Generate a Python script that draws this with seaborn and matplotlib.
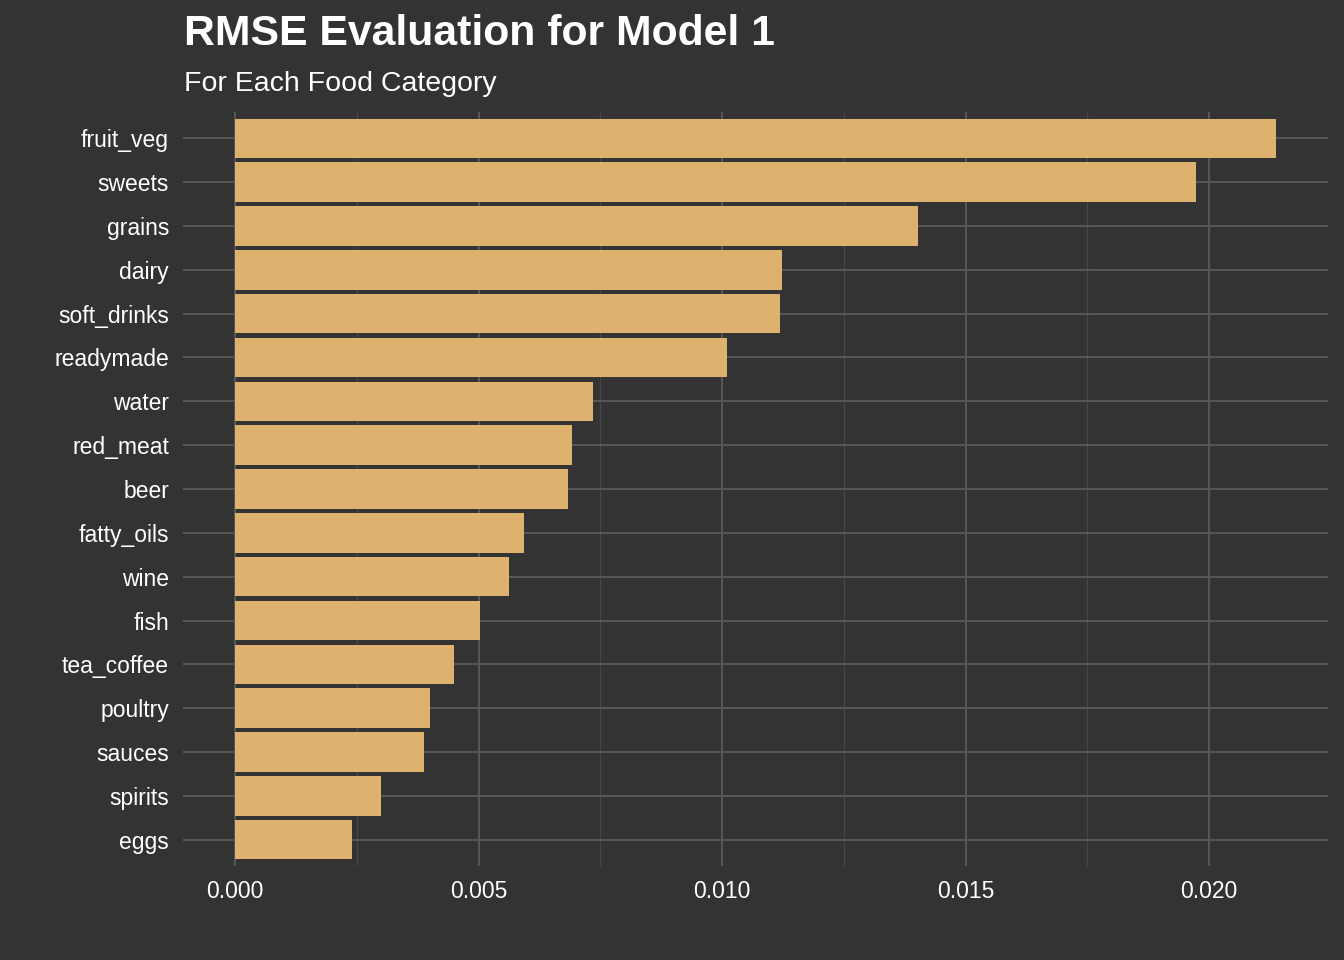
import matplotlib
matplotlib.use("Agg")
import matplotlib.pyplot as plt
import matplotlib.ticker as mticker
import seaborn as sns
import pandas as pd

categories = ["fruit_veg", "sweets", "grains", "dairy", "soft_drinks", "readymade",
              "water", "red_meat", "beer", "fatty_oils", "wine", "fish",
              "tea_coffee", "poultry", "sauces", "spirits", "eggs"]
rmse = [0.02137, 0.01973, 0.01403, 0.01122, 0.01118, 0.01009,
        0.00734, 0.00691, 0.00683, 0.00593, 0.00562, 0.00503,
        0.00449, 0.00400, 0.00388, 0.00299, 0.00240]
x_ticks = [0.000, 0.005, 0.010, 0.015, 0.020]

df = pd.DataFrame({"category": categories, "rmse": rmse})

bg = "#333333"
sns.set_theme(style="dark")
plt.rcParams["font.family"] = ["Liberation Sans", "DejaVu Sans"]

fig = plt.figure(figsize=(13.44, 9.6), dpi=100, facecolor=bg)
ax = fig.add_axes([183 / 1344, 1 - 866 / 960, (1328 - 183) / 1344, (866 - 112) / 960])
ax.set_facecolor(bg)

sns.barplot(data=df, x="rmse", y="category", color="#DEB26E", width=0.9,
            saturation=1, linewidth=0, edgecolor="none", ax=ax, zorder=3)

xmax = max(rmse)
ax.set_xlim(-0.05 * xmax, xmax * 1.05)
ax.set_ylim(len(categories) - 0.4, -0.6)
ax.set_xticks(x_ticks)
ax.xaxis.set_major_formatter(mticker.FormatStrFormatter("%.3f"))
ax.xaxis.set_minor_locator(mticker.MultipleLocator(0.0025))

ax.grid(True, which="major", axis="both", color="#575757", linewidth=1.4, zorder=0)
ax.grid(True, which="minor", axis="x", color="#474747", linewidth=0.9, zorder=0)
ax.set_axisbelow(True)

for s in ax.spines.values():
    s.set_visible(False)
ax.tick_params(axis="both", which="both", length=0, colors="white", labelsize=16.5)
ax.tick_params(axis="y", pad=10)
ax.tick_params(axis="x", pad=10)
ax.set_xlabel("")
ax.set_ylabel("")

fig.text(184 / 1344, 1 - 34 / 960, "RMSE Evaluation for Model 1", color="white",
         fontsize=30.8, fontweight="bold", va="center", ha="left")
fig.text(184 / 1344, 1 - 84 / 960, "For Each Food Category", color="white",
         fontsize=20.5, va="center", ha="left")

fig.savefig("out.png", dpi=100, facecolor=bg)
